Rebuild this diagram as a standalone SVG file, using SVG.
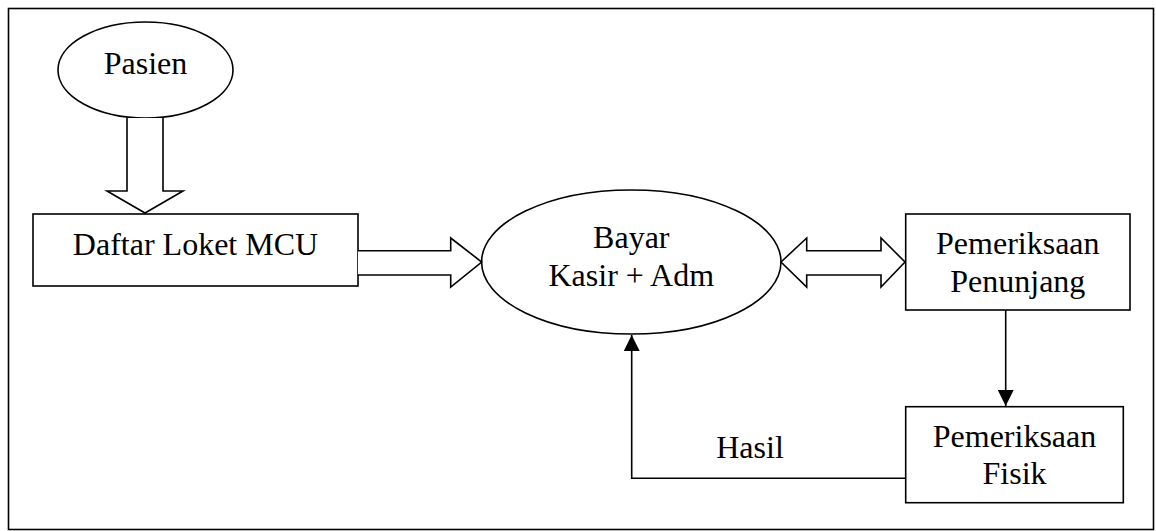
<svg xmlns="http://www.w3.org/2000/svg" width="1156" height="531" viewBox="0 0 1156 531">
<style>
.s{fill:#fff;stroke:#000;stroke-width:1.6}
.l{fill:none;stroke:#000;stroke-width:1.6}
.t{font-family:'Liberation Serif',serif;font-size:32px;fill:#000;text-anchor:middle}
</style>
<defs>
<marker id="ah" markerWidth="16" markerHeight="16" viewBox="0 0 16 16" refX="16" refY="8" orient="auto" markerUnits="userSpaceOnUse">
<path d="M0,0 L16,8 L0,16 Z" fill="#000"/>
</marker>
</defs>
<rect x="8.5" y="8.5" width="1145" height="521" fill="#fff" stroke="#000" stroke-width="1.6"/>
<g id="pasien">
<ellipse class="s" cx="145.5" cy="70" rx="87.5" ry="48"/>
<text class="t" font-family="Liberation Serif" x="145.5" y="74">Pasien</text>
</g>
<g id="daftar">
<rect class="s" x="33" y="214" width="325" height="72"/>
<text class="t" font-family="Liberation Serif" x="195.5" y="255">Daftar Loket MCU</text>
</g>
<g id="bayar">
<ellipse class="s" cx="631.3" cy="262" rx="149.7" ry="72"/>
<text class="t" font-family="Liberation Serif" x="631.3" y="248">Bayar</text>
<text class="t" font-family="Liberation Serif" x="631.3" y="286">Kasir + Adm</text>
</g>
<g id="penunjang">
<rect class="s" x="905.7" y="214" width="224.3" height="96"/>
<text class="t" font-family="Liberation Serif" x="1017.8" y="254">Pemeriksaan</text>
<text class="t" font-family="Liberation Serif" x="1017.8" y="292">Penunjang</text>
</g>
<g id="fisik">
<rect class="s" x="905.7" y="406.7" width="217.6" height="96"/>
<text class="t" font-family="Liberation Serif" x="1014.5" y="446.7">Pemeriksaan</text>
<text class="t" font-family="Liberation Serif" x="1014.5" y="484">Fisik</text>
</g>
<g id="connectors">
<path class="s" d="M127,118 L127,191 L107,191 L145,213 L183,191 L163,191 L163,118"/>
<path class="s" d="M358,250.7 L450.7,250.7 L450.7,238 L481.7,262 L450.7,287 L450.7,275 L358,275"/>
<path class="s" d="M781,262 L806.7,238 L806.7,250.7 L881,250.7 L881,238 L905,262 L881,287 L881,275 L806.7,275 L806.7,287 Z"/>
<path class="l" d="M1005.7,310 L1005.7,406" marker-end="url(#ah)"/>
<path class="l" d="M905.7,478.3 L631.7,478.3 L631.7,335" marker-end="url(#ah)"/>
<text class="t" font-family="Liberation Serif" x="750" y="458.3">Hasil</text>
</g>
</svg>
